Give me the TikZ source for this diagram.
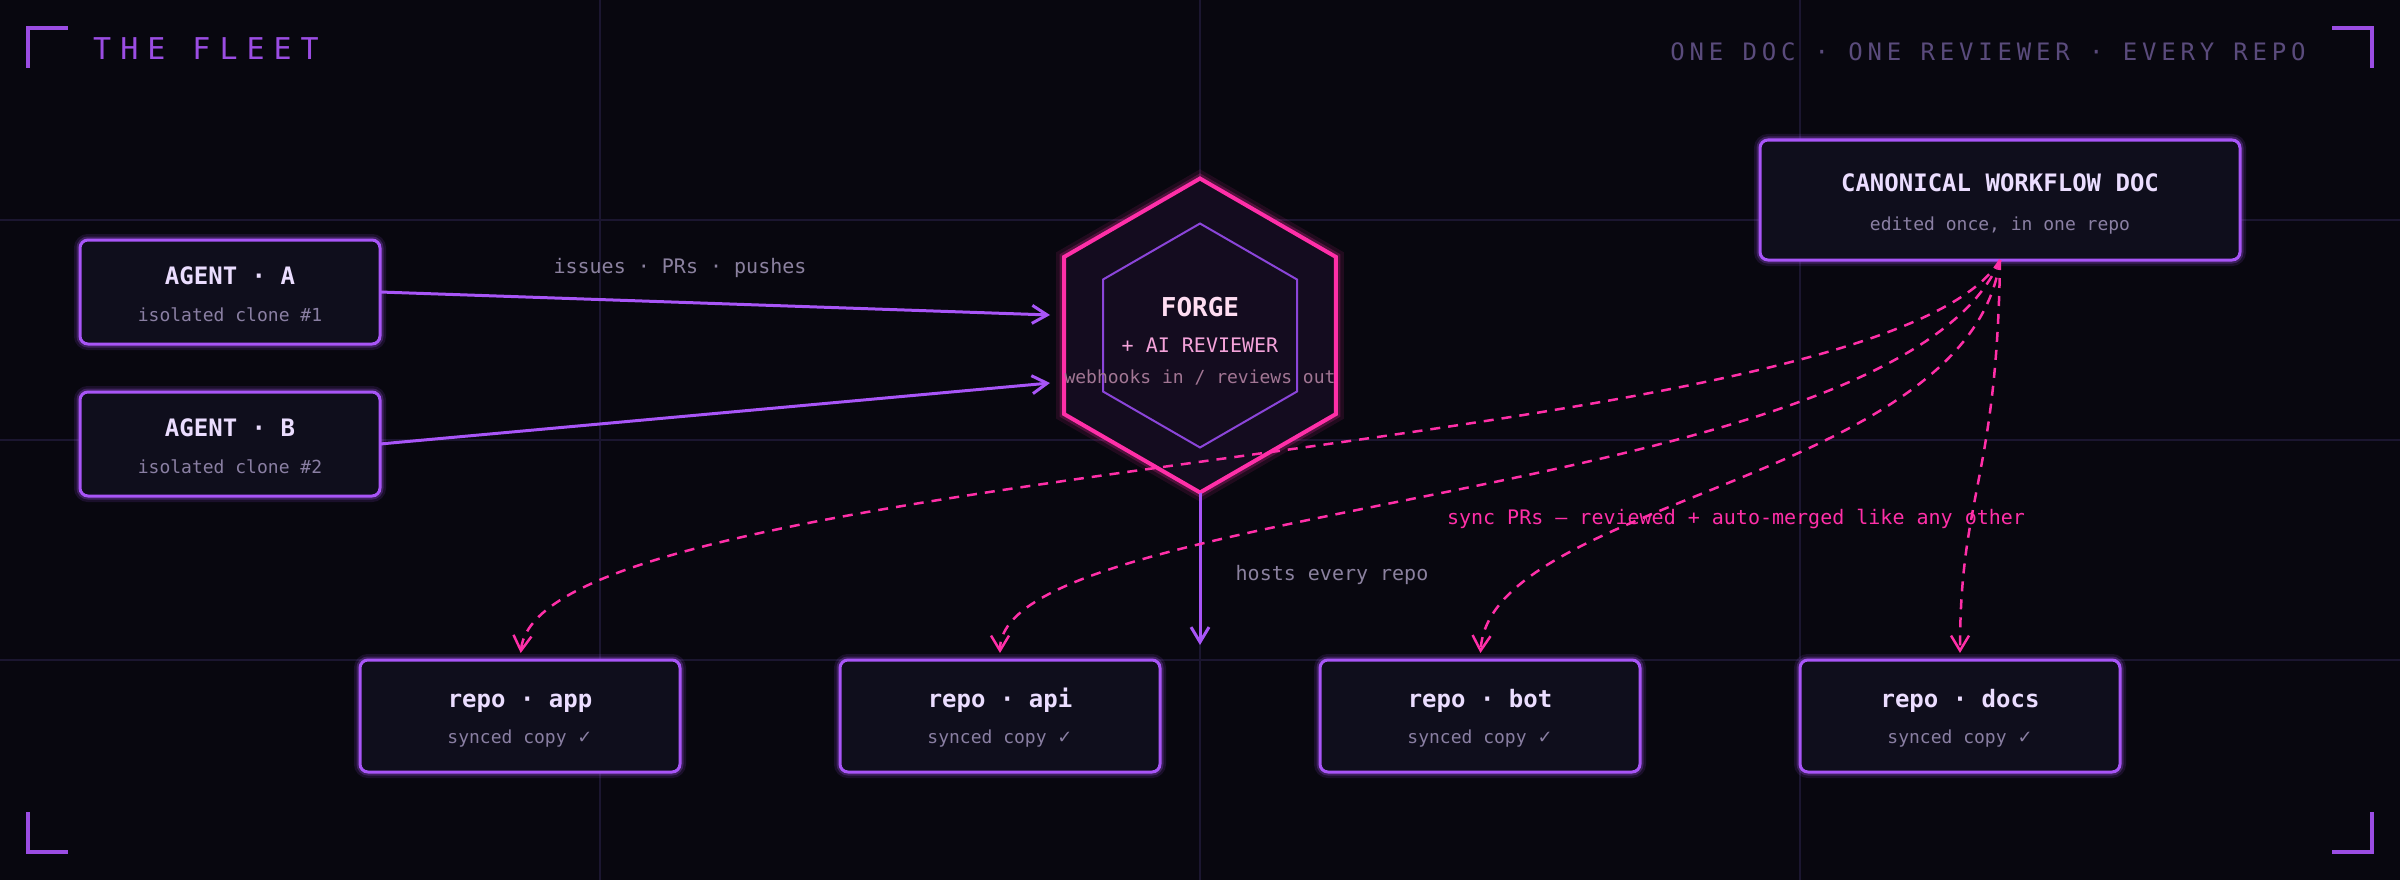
\documentclass[tikz,border=0pt]{standalone}
\usepackage{fontspec}
\setmainfont{DejaVu Sans Mono}
\newfontfamily\fleetfont[LetterSpace=30]{DejaVu Sans Mono}
\newfontfamily\tagfont[LetterSpace=20]{DejaVu Sans Mono}
\newfontfamily\checkfont{DejaVu Sans}
\usetikzlibrary{shapes.geometric, positioning, arrows.meta}

\definecolor{bgdark}{HTML}{08070F}
\definecolor{gridcol}{HTML}{1B1630}
\definecolor{boxfill}{HTML}{0F0E1C}
\definecolor{hexfill}{HTML}{140C1F}
\definecolor{neonpurple}{HTML}{A855F7}
\definecolor{corepurple}{HTML}{8B45D9}
\definecolor{neonpink}{HTML}{FF2FA8}
\definecolor{titletext}{HTML}{EBDDFF}
\definecolor{subtext}{HTML}{8A7FA3}
\definecolor{labeltext}{HTML}{8B819F}
\definecolor{headdim}{HTML}{5A4B7C}
\definecolor{fleetpurple}{HTML}{9B4DE3}
\definecolor{forgetext}{HTML}{FFDDF2}
\definecolor{reviewtext}{HTML}{F4A3DA}
\definecolor{hooktext}{HTML}{A27694}

\tikzstyle{feed} = [draw=neonpurple, line width=3pt, -{Straight Barb[length=15pt, width=18pt]}]
\tikzstyle{sync} = [draw=neonpink, line width=2.5pt, dash pattern=on 10pt off 8pt, shorten >=7pt, -{Straight Barb[length=15pt, width=18pt]}]
\tikzset{
    panel/.style={
        rectangle, rounded corners=8pt, draw=neonpurple, line width=3pt, fill=boxfill, inner sep=0pt, outer sep=0pt,
        preaction={draw=neonpurple, line width=12pt, draw opacity=0.12},
        preaction={draw=neonpurple, line width=7pt, draw opacity=0.25}
    },
    agentbox/.style={panel, minimum width=300pt, minimum height=104pt},
    docbox/.style={panel, minimum width=480pt, minimum height=120pt},
    repobox/.style={panel, minimum width=320pt, minimum height=112pt},
    forgehex/.style={
        regular polygon, regular polygon sides=6, shape border rotate=30, minimum size=314pt, inner sep=0pt, outer sep=0pt,
        draw=neonpink, line width=4pt, fill=hexfill,
        preaction={draw=neonpink, line width=16pt, draw opacity=0.10},
        preaction={draw=neonpink, line width=9pt, draw opacity=0.22}
    },
    corehex/.style={
        regular polygon, regular polygon sides=6, shape border rotate=30, minimum size=224pt, inner sep=0pt, outer sep=0pt,
        draw=corepurple, line width=2pt
    },
    boxtitle/.style={anchor=base, inner sep=0pt, text=titletext, font=\bfseries\fontsize{24}{28}\selectfont},
    boxsub/.style={anchor=base, inner sep=0pt, text=subtext, font=\fontsize{18}{22}\selectfont},
    flowlabel/.style={anchor=base, inner sep=0pt, text=labeltext, font=\fontsize{20}{24}\selectfont},
    gridline/.style={draw=gridcol, line width=1.5pt},
    corner/.style={draw=fleetpurple, line width=4pt}
}

\begin{document}
\begin{tikzpicture}[x=1pt, y=-1pt]
        % Canvas
        \useasboundingbox (0,0) rectangle (2400,880);
        \fill[bgdark] (0,0) rectangle (2400,880);
        \foreach \gx in {600,1200,1800} \draw[gridline] (\gx,0) -- (\gx,880);
        \foreach \gy in {220,440,660} \draw[gridline] (0,\gy) -- (2400,\gy);

        % Corner brackets
        \draw[corner] (28,68) -- (28,28) -- (68,28);
        \draw[corner] (2332,28) -- (2372,28) -- (2372,68);
        \draw[corner] (28,812) -- (28,852) -- (68,852);
        \draw[corner] (2332,852) -- (2372,852) -- (2372,812);

        % Header
        \node[anchor=base, inner sep=0pt, text=fleetpurple, font=\fleetfont\fontsize{30}{36}\selectfont] (fleetTitle) at (206,60) {THE FLEET};
        \node[anchor=base, inner sep=0pt, text=headdim, font=\tagfont\fontsize{24}{28}\selectfont] (tagline) at (1988,61) {ONE DOC · ONE REVIEWER · EVERY REPO};

        % Nodes
        \node[agentbox] (agentA) at (230,292) {};
        \node[agentbox, below=48pt of agentA] (agentB) {};
        \node[docbox] (doc) at (2000,200) {};
        \node[repobox] (app) at (520,716) {};
        \node[repobox, right=160pt of app] (api) {};
        \node[repobox, right=160pt of api] (bot) {};
        \node[repobox, right=160pt of bot] (docs) {};
        \node[forgehex] (forge) at (1200,335.5) {};
        \node[corehex] (forgeCore) at (forge.center) {};

        \coordinate (forgeInA) at (1050,315);
        \coordinate (forgeInB) at (1050,383);
        \coordinate (hostEnd) at (1200,645);

        % Arrows
        \draw[feed] (agentA.east) -- (forgeInA);
        \draw[feed] (agentB.east) -- (forgeInB);
        \draw[feed] (forge.south) -- (hostEnd);
        \draw[sync] (doc.south) .. controls +(-120,200) and +(20,-200) .. (app.north);
        \draw[sync] (doc.south) .. controls +(-100,240) and +(0,-160) .. (api.north);
        \draw[sync] (doc.south) .. controls +(-30,220) and +(10,-160) .. (bot.north);
        \draw[sync] (doc.south) .. controls +(-3,220) and +(0,-167) .. (docs.north);

        % Labels for nodes
        \node[boxtitle] (agentAName) at ([yshift=8pt]agentA.center) {AGENT · A};
        \node[boxsub] (agentANote) at ([yshift=-29pt]agentA.center) {isolated clone \#1};
        \node[boxtitle] (agentBName) at ([yshift=8pt]agentB.center) {AGENT · B};
        \node[boxsub] (agentBNote) at ([yshift=-29pt]agentB.center) {isolated clone \#2};
        \node[boxtitle] (docName) at ([yshift=9pt]doc.center) {CANONICAL WORKFLOW DOC};
        \node[boxsub] (docNote) at ([yshift=-30pt]doc.center) {edited once, in one repo};
        \node[boxtitle] (appName) at ([yshift=9pt]app.center) {repo · app};
        \node[boxsub] (appNote) at ([yshift=-27pt]app.center) {synced copy {\checkfont ✓}};
        \node[boxtitle] (apiName) at ([yshift=9pt]api.center) {repo · api};
        \node[boxsub] (apiNote) at ([yshift=-27pt]api.center) {synced copy {\checkfont ✓}};
        \node[boxtitle] (botName) at ([yshift=9pt]bot.center) {repo · bot};
        \node[boxsub] (botNote) at ([yshift=-27pt]bot.center) {synced copy {\checkfont ✓}};
        \node[boxtitle] (docsName) at ([yshift=9pt]docs.center) {repo · docs};
        \node[boxsub] (docsNote) at ([yshift=-27pt]docs.center) {synced copy {\checkfont ✓}};

        \node[anchor=base, inner sep=0pt, text=forgetext, font=\bfseries\fontsize{26}{30}\selectfont] (forgeName) at ([yshift=19.5pt]forge.center) {FORGE};
        \node[anchor=base, inner sep=0pt, text=reviewtext, font=\fontsize{20}{24}\selectfont] (forgeReview) at ([yshift=-17pt]forge.center) {+ AI REVIEWER};
        \node[anchor=base, inner sep=0pt, text=hooktext, font=\fontsize{18}{22}\selectfont] (forgeHooks) at ([yshift=-48pt]forge.center) {webhooks in / reviews out};

        % Connector labels
        \node[flowlabel] (pushLabel) at (680,273) {issues · PRs · pushes};
        \node[flowlabel] (hostLabel) at (1332,580) {hosts every repo};
        \node[flowlabel, text=neonpink] (syncLabel) at (1736,524) {sync PRs — reviewed + auto-merged like any other};
\end{tikzpicture}
\end{document}
